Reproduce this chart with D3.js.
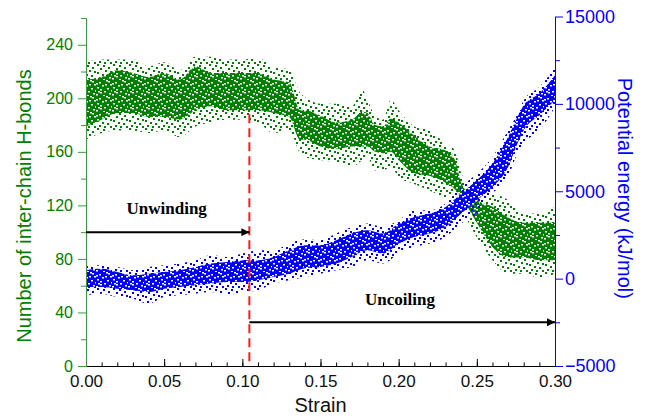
<!DOCTYPE html>
<html>
<head>
<meta charset="utf-8">
<script src="https://cdn.jsdelivr.net/npm/d3@7"></script>
<style>
  body { margin: 0; background: #fff; }
  svg { display: block; font-family: Arial, "Liberation Sans", sans-serif; }
</style>
</head>
<body>
<script>
// H-bond cloud: strain positions and envelope of the dots (outer and dense core)
const strainG   = [0, 0.01, 0.02, 0.03, 0.04, 0.05, 0.06, 0.07, 0.08, 0.09, 0.10, 0.11, 0.12, 0.13, 0.137, 0.14, 0.15, 0.16, 0.17, 0.177, 0.18, 0.185, 0.19, 0.195, 0.20, 0.21, 0.22, 0.23, 0.236, 0.24, 0.25, 0.26, 0.27, 0.28, 0.29, 0.30];
const hbTop     = [227, 229, 229, 229, 224, 227, 221, 231, 231, 229, 229, 230, 224, 221, 204, 201, 196, 196, 194, 206, 199, 187, 184, 199, 191, 179, 176, 166, 161, 144, 131, 129, 124, 114, 114, 119];
const hbCoreTop = [214, 216, 221, 219, 216, 219, 214, 224, 219, 219, 219, 219, 214, 212, 191, 191, 187, 182, 184, 190, 189, 180, 179, 185, 182, 172, 164, 161, 154, 137, 124, 119, 111, 107, 107, 107];
const hbCoreBot = [179, 184, 189, 189, 186, 186, 184, 191, 194, 191, 191, 191, 189, 186, 169, 169, 164, 162, 164, 164, 164, 160, 159, 160, 154, 144, 142, 137, 132, 126, 107, 89, 81, 81, 79, 79];
const hbBot     = [169, 174, 176, 176, 174, 176, 171, 179, 182, 184, 184, 182, 174, 176, 159, 156, 154, 152, 149, 154, 156, 146, 146, 149, 141, 136, 131, 126, 124, 117, 96, 79, 69, 69, 66, 69];

// potential energy cloud (kJ/mol)
const strainE   = [0, 0.01, 0.02, 0.03, 0.04, 0.05, 0.06, 0.07, 0.08, 0.09, 0.10, 0.11, 0.12, 0.13, 0.14, 0.15, 0.16, 0.17, 0.18, 0.19, 0.20, 0.21, 0.22, 0.23, 0.24, 0.25, 0.26, 0.27, 0.275, 0.28, 0.29, 0.30];
const enTop     = [762, 762, 664, 475, 664, 762, 859, 1048, 1334, 1237, 1432, 1620, 1620, 2004, 2250, 2193, 2577, 2955, 3149, 2955, 3338, 3911, 3911, 4295, 5245, 6012, 6963, 8492, 9253, 10210, 10971, 12099];
const enCoreTop = [475, 573, 378, 189, 286, 378, 475, 664, 859, 951, 1048, 1048, 1237, 1620, 1907, 1907, 2193, 2577, 2766, 2577, 3149, 3527, 3722, 4100, 4867, 5629, 6585, 8108, 9064, 9923, 10593, 11641];
const enCoreBot = [-481, -481, -573, -670, -767, -573, -481, -384, -286, -195, -195, -97, 92, 286, 590, 664, 859, 1237, 1620, 1432, 2004, 2382, 2577, 2955, 3722, 4483, 5245, 6390, 7535, 8492, 9351, 10210];
const enBot     = [-956, -859, -1054, -1145, -1432, -1054, -956, -859, -767, -956, -767, -670, -286, -97, 92, 286, 475, 664, 1048, 859, 1432, 1809, 2004, 2382, 3149, 3722, 4867, 5818, 6963, 7730, 8492, 9809];

const xTicks = [0, 0.05, 0.10, 0.15, 0.20, 0.25, 0.30];
const xMinor = d3.range(0, 31).map(i => i / 100);
const hbTicks = [0, 40, 80, 120, 160, 200, 240];
const hbMinor = [20, 60, 100, 140, 180, 220, 260];
const enTicks = [-5000, 0, 5000, 10000, 15000];
const enMinor = [-2500, 2500, 7500, 12500];

// annotations
const splitStrain = 0.1045;
const splitTopHb = 188;
const unwindHb = 100;
const uncoilEn = -2500;

const W = 646, H = 419;
const green = "#007f00", blue = "#0000ff";

const svg = d3.select("body").append("svg").attr("width", W).attr("height", H);

const x = d3.scaleLinear().domain([0, 0.3]).range([86, 555]);
const yL = d3.scaleLinear().domain([0, 260]).range([366, 18]);
const yR = d3.scaleLinear().domain([-5000, 15000]).range([366, 16.5]);

// dot textures for the scatter clouds (2px squares like the original markers)
const defs = svg.append("defs");
function dotPattern(id, color, dots) {
  const p = defs.append("pattern").attr("id", id).attr("patternUnits", "userSpaceOnUse")
    .attr("width", 16).attr("height", 16);
  dots.forEach(d => p.append("rect").attr("x", d[0]).attr("y", d[1]).attr("width", 2).attr("height", 2).attr("fill", color));
}
function solidPattern(id, color, holes) {
  const p = defs.append("pattern").attr("id", id).attr("patternUnits", "userSpaceOnUse")
    .attr("width", 16).attr("height", 16);
  p.append("rect").attr("width", 16).attr("height", 16).attr("fill", color);
  holes.forEach(d => p.append("rect").attr("x", d[0]).attr("y", d[1]).attr("width", 2).attr("height", 1.5).attr("fill", "#fff"));
}
const sparse = [[1, 0], [7, 1], [12, 3], [4, 4], [14, 7], [9, 6], [1, 8], [6, 10], [11, 11], [3, 13], [14, 14], [8, 14]];
const holes = [[3, 2], [10, 0], [14, 4], [6, 5], [1, 7], [11, 8], [8, 11], [4, 12], [13, 13], [0, 14], [7, 15],
               [12, 1], [0, 3], [9, 4], [4, 9], [15, 10], [2, 11]];
dotPattern("gSparse", green, sparse);
solidPattern("gDense", green, holes);
dotPattern("bSparse", blue, sparse);
solidPattern("bDense", blue, holes);

function band(xs, lo, hi, y, fill) {
  const rows = xs.map((s, i) => ({ s, lo: lo[i], hi: hi[i] }));
  svg.append("path").datum(rows)
    .attr("d", d3.area().x(d => x(d.s)).y0(d => y(d.lo)).y1(d => y(d.hi)).curve(d3.curveMonotoneX))
    .attr("fill", fill);
}
band(strainG, hbBot, hbTop, yL, "url(#gSparse)");
band(strainG, hbCoreBot, hbCoreTop, yL, "url(#gDense)");
band(strainE, enBot, enTop, yR, "url(#bSparse)");
band(strainE, enCoreBot, enCoreTop, yR, "url(#bDense)");

// axes
svg.append("g").attr("transform", `translate(0,${yL(0)})`)
  .call(d3.axisBottom(x).tickValues(xMinor).tickSizeInner(-3.5).tickSizeOuter(0).tickFormat(""));
svg.append("g").attr("transform", `translate(0,${yL(0)})`)
  .call(d3.axisBottom(x).tickValues(xTicks).tickSizeInner(-7).tickSizeOuter(0).tickPadding(9).tickFormat(d3.format(".2f")))
  .call(g => g.selectAll("text").attr("font-size", 17).attr("fill", "#111"));

svg.append("g").attr("class", "left").attr("transform", `translate(${x(0)},0)`)
  .call(d3.axisLeft(yL).tickValues(hbMinor).tickSizeInner(5).tickSizeOuter(0).tickFormat(""));
svg.append("g").attr("class", "left").attr("transform", `translate(${x(0)},0)`)
  .call(d3.axisLeft(yL).tickValues(hbTicks).tickSizeInner(8).tickSizeOuter(0).tickPadding(5))
  .call(g => g.selectAll("text").attr("font-size", 16).attr("fill", green));
svg.selectAll("g.left").selectAll("path, line").attr("stroke", "#3a9a3a");

svg.append("g").attr("class", "right").attr("transform", `translate(${x(0.3)},0)`)
  .call(d3.axisRight(yR).tickValues(enMinor).tickSizeInner(5).tickSizeOuter(0).tickFormat(""));
svg.append("g").attr("class", "right").attr("transform", `translate(${x(0.3)},0)`)
  .call(d3.axisRight(yR).tickValues(enTicks).tickSizeInner(8).tickSizeOuter(0).tickPadding(2).tickFormat(d3.format("d")))
  .call(g => g.selectAll("text").attr("font-size", 18).attr("fill", blue));
svg.selectAll("g.right").selectAll("path, line").attr("stroke", blue);

// axis titles
svg.append("text").attr("transform", `translate(31,${(yL(0) + yL(260)) / 2 + 14}) rotate(-90)`)
  .attr("text-anchor", "middle").attr("font-size", 20).attr("fill", green)
  .text("Number of inter-chain H-bonds");
svg.append("text").attr("transform", `translate(618,${(yR(-5000) + yR(15000)) / 2 - 3}) rotate(90)`)
  .attr("text-anchor", "middle").attr("font-size", 20).attr("fill", blue)
  .text("Potential energy (kJ/mol)");
svg.append("text").attr("x", (x(0) + x(0.3)) / 2).attr("y", 412)
  .attr("text-anchor", "middle").attr("font-size", 20).attr("fill", "#111").text("Strain");

// red dashed split line
svg.append("line")
  .attr("x1", x(splitStrain)).attr("x2", x(splitStrain))
  .attr("y1", yL(splitTopHb)).attr("y2", yL(0))
  .attr("stroke", "#ff1a1a").attr("stroke-width", 2).attr("stroke-dasharray", "9,5");

// arrows
defs.append("marker").attr("id", "arrow").attr("viewBox", "0 0 10 10")
  .attr("refX", 10).attr("refY", 5).attr("markerWidth", 5).attr("markerHeight", 4)
  .attr("markerUnits", "strokeWidth").attr("orient", "auto")
  .append("path").attr("d", "M0,0L10,5L0,10z").attr("fill", "#000");

svg.append("line").attr("x1", x(0)).attr("x2", x(splitStrain))
  .attr("y1", yL(unwindHb)).attr("y2", yL(unwindHb))
  .attr("stroke", "#000").attr("stroke-width", 2).attr("marker-end", "url(#arrow)");
svg.append("line").attr("x1", x(splitStrain)).attr("x2", x(0.3))
  .attr("y1", yR(uncoilEn)).attr("y2", yR(uncoilEn))
  .attr("stroke", "#000").attr("stroke-width", 2).attr("marker-end", "url(#arrow)");

svg.append("text").attr("x", x(splitStrain / 2) - 1).attr("y", 214)
  .attr("text-anchor", "middle").attr("font-family", "'Liberation Serif', 'Times New Roman', serif")
  .attr("font-weight", "bold").attr("font-size", 17).text("Unwinding");
svg.append("text").attr("x", 400).attr("y", 305)
  .attr("text-anchor", "middle").attr("font-family", "'Liberation Serif', 'Times New Roman', serif")
  .attr("font-weight", "bold").attr("font-size", 17).text("Uncoiling");
</script>
</body>
</html>
